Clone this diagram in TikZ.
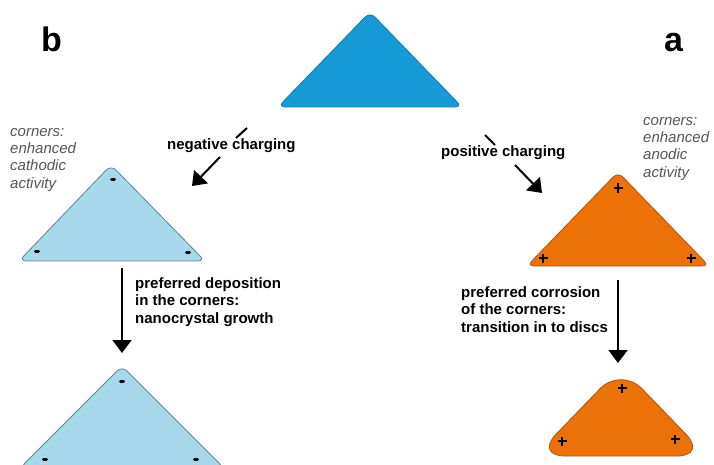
\documentclass[tikz,border=0pt]{standalone}
\usepackage{fontspec}
\setmainfont{Liberation Sans}
\usepackage{tikz}
\usetikzlibrary{arrows.meta}
\definecolor{topblue}{RGB}{22,154,214}
\definecolor{lightblue}{RGB}{168,216,235}
\definecolor{corrorange}{RGB}{236,114,8}
\definecolor{notegray}{RGB}{85,85,85}

\begin{document}
\begin{tikzpicture}[x=1pt, y=-1pt,
  tri/.style={line width=0.8pt, rounded corners=7pt},
  lbl/.style={font=\fontsize{15}{17.5}\selectfont\bfseries, inner sep=0pt, align=left},
  note/.style={font=\fontsize{15}{17.3}\selectfont\itshape, color=notegray, inner sep=0pt, align=left},
  panel/.style={font=\fontsize{34}{36}\selectfont\bfseries, inner sep=0pt},
  arrow/.style={-{Triangle[width=19pt, length=13pt]}, line width=2pt},
  minus/.style={line width=3pt, line cap=round},
  plus/.style={line width=1.6pt}]
\useasboundingbox (0,0) rectangle (714,465);
\clip (0,0) rectangle (714,465);

% triangles
\draw[tri, fill=topblue, draw=topblue!80!black] (370,12) -- (462,107) -- (278,107) -- cycle;
\draw[tri, fill=lightblue, draw=lightblue!60!black] (111,165) -- (205,261) -- (19,261) -- cycle;
\draw[tri, fill=lightblue, draw=lightblue!60!black] (122,366) -- (224,468) -- (20,468) -- cycle;
\draw[tri, fill=corrorange, draw=corrorange!75!black] (618,172) -- (709,266) -- (527,266) -- cycle;
\draw[tri, rounded corners=30pt, fill=corrorange, draw=corrorange!75!black] (621,367) -- (707,456) -- (535,456) -- cycle;

% charges
\foreach \x/\y in {113/180, 37/251, 188/252, 122/381, 45/459, 196/459}
  \draw[minus] (\x-1.5,\y) -- (\x+1.5,\y);
\foreach \x/\y in {618/188, 543/258, 691/258, 622/388, 562/441, 675/439} {
  \draw[plus] (\x-4.5,\y) -- (\x+4.5,\y);
  \draw[plus] (\x,\y-4.5) -- (\x,\y+4.5);
}

% labels
\node[panel, anchor=base west] (b) at (41,52) {b};
\node[panel, anchor=base west] (a) at (664,52) {a};
\node[lbl, anchor=base west] (neg) at (167,150) {negative charging};
\node[lbl, anchor=base west] (pos) at (441,157) {positive charging};
\node[note, anchor=north west] (cathodic) at (10,128) {corners:\\enhanced\\cathodic\\activity};
\node[note, anchor=north west] (anodic) at (643,117) {corners:\\enhanced\\anodic\\activity};
\node[lbl, anchor=north west] (deposition) at (135,277) {preferred deposition\\in the corners:\\nanocrystal growth};
\node[lbl, anchor=north west] (corrosion) at (461,286) {preferred corrosion\\of the corners:\\transition in to discs};

% connectors
\coordinate (negtick1) at (247,128);
\coordinate (negtick2) at (236,138);
\coordinate (negfrom) at (220,157);
\coordinate (negto) at (192,186);
\coordinate (postick1) at (485,135);
\coordinate (postick2) at (495,145);
\coordinate (posfrom) at (515,165);
\coordinate (posto) at (542,193);
\coordinate (depfrom) at (122,268);
\coordinate (depto) at (122,353);
\coordinate (corfrom) at (618,280);
\coordinate (corto) at (618,363);
\draw[line width=2pt] (negtick1) -- (negtick2);
\draw[line width=2pt] (postick1) -- (postick2);
\draw[arrow] (negfrom) -- (negto);
\draw[arrow] (posfrom) -- (posto);
\draw[arrow] (depfrom) -- (depto);
\draw[arrow] (corfrom) -- (corto);
\end{tikzpicture}
\end{document}
